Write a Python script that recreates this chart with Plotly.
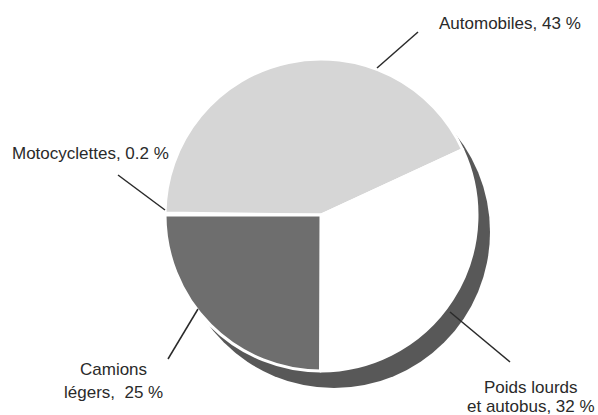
import plotly.graph_objects as go

W, H = 598, 415

# slices, clockwise from 9 o'clock
labels = ["Motocyclettes", "Automobiles", "Poids lourds et autobus", "Camions légers"]
values = [0.2, 43, 32, 25]
colors = ["#ffffff", "#d6d6d6", "#ffffff", "#6e6e6e"]

label_lines = [["Motocyclettes, 0.2 %"], ["Automobiles, 43 %"],
               ["Poids lourds", "et autobus, 32 %"], ["Camions", "légers,  25 %"]]

# pie geometry in pixels
cx, cy, r = 321, 215, 156
shadow_dx, shadow_dy = 13, 17


def px(x):
    return x / W


def py(y):
    return 1 - y / H


fig = go.Figure(go.Pie(
    labels=labels,
    values=values,
    sort=False,
    direction="clockwise",
    rotation=270,
    textinfo="none",
    hoverinfo="label+percent",
    marker=dict(colors=colors, line=dict(color="white", width=3)),
    domain=dict(x=[px(cx - r), px(cx + r)], y=[py(cy + r), py(cy - r)]),
    showlegend=False,
))

# drop shadow behind the pie
fig.add_shape(type="circle", xref="paper", yref="paper", layer="below",
              x0=px(cx - r + shadow_dx), x1=px(cx + r + shadow_dx),
              y0=py(cy + r + shadow_dy), y1=py(cy - r + shadow_dy),
              fillcolor="#585858", line=dict(width=0))

# leader lines
leaders = [
    ((165, 210), (118, 175)),
    ((377, 68), (418, 32)),
    ((450, 312), (510, 362)),
    ((198, 309), (168, 359)),
]
for (x0, y0), (x1, y1) in leaders:
    fig.add_shape(type="line", xref="paper", yref="paper",
                  x0=px(x0), y0=py(y0), x1=px(x1), y1=py(y1),
                  line=dict(color="#2a2a2a", width=1.5))

# labels, one annotation per line
label_pos = [[(90, 153)], [(510, 23)], [(531, 387), (531, 406)], [(113, 369), (113, 392)]]
for lines, pos in zip(label_lines, label_pos):
    for txt, (x, y) in zip(lines, pos):
        fig.add_annotation(text=txt, x=px(x), y=py(y), xref="paper", yref="paper",
                           showarrow=False, xanchor="center", yanchor="middle",
                           font=dict(size=17, color="#2a2a2a"))

fig.update_layout(
    width=W, height=H,
    margin=dict(l=0, r=0, t=0, b=0),
    paper_bgcolor="white",
    plot_bgcolor="white",
    font=dict(family="Liberation Sans, Arial, sans-serif"),
)

fig.write_html("out.html", config={"displayModeBar": False},
               post_script="document.body.style.margin = '0';")
